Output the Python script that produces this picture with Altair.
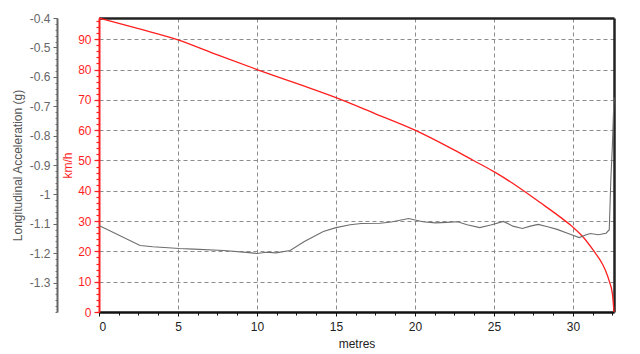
import altair as alt
import pandas as pd

# ---- data ----
dist_speed = [0, 2.5, 5, 7.5, 10, 12.5, 15, 17.5, 20, 22.5, 23.7, 25, 26.6, 27.9,
              29.2, 30, 30.6, 31.3, 31.9, 32.1, 32.3, 32.5, 32.6]
speed_kmh = [97, 93.5, 89.8, 84.8, 80, 75.4, 70.7, 65.4, 60, 53.4, 50.0, 46.3, 41.0, 36.2,
             31.3, 28, 25, 20.3, 15.5, 13.2, 10.2, 6, 0]

dist_acc = [0, 2.6, 3.4, 5.1, 6.0, 7.9, 9.5, 10.0, 10.6, 11.2, 12.1, 13.0, 14.2, 15.0,
            15.9, 16.6, 17.8, 18.5, 19.6, 20.5, 21.3, 22.0, 22.7, 23.3, 24.1, 24.8,
            25.6, 26.2, 26.8, 27.3, 27.8, 28.4, 29.0, 29.7, 30.4, 30.8, 31.1, 31.6,
            32.1, 32.3, 32.4, 32.5, 32.6]
acc_g = [-1.106, -1.174, -1.178, -1.184, -1.186, -1.191, -1.198, -1.201, -1.197, -1.199,
         -1.191, -1.160, -1.126, -1.113, -1.103, -1.099, -1.098, -1.094, -1.082, -1.093,
         -1.097, -1.095, -1.093, -1.103, -1.113, -1.104, -1.092, -1.108, -1.116, -1.108,
         -1.102, -1.110, -1.119, -1.133, -1.147, -1.138, -1.133, -1.137, -1.132, -1.120,
         -0.950, -0.830, -0.670]

x_ticks = [0, 5, 10, 15, 20, 25, 30]
x_minor = [0, 1.25, 2.5, 3.75, 5, 6.25, 7.5, 8.75, 10, 11.25, 12.5, 13.75, 15, 16.25,
           17.5, 18.75, 20, 21.25, 22.5, 23.75, 25, 26.25, 27.5, 28.75, 30, 31.25, 32.5]
speed_ticks = [0, 10, 20, 30, 40, 50, 60, 70, 80, 90]
speed_minor = list(range(0, 97, 2))
acc_ticks = [-0.4, -0.5, -0.6, -0.7, -0.8, -0.9, -1, -1.1, -1.2, -1.3]
acc_minor = [round(-0.4 - 0.02 * i, 2) for i in range(51)]

X_DOM = [0, 32.6]
SPD_DOM = [0, 97]
ACC_DOM = [-1.4, -0.4]

RED = "#ff1f1f"
GRAY_LINE = "#6e6e6e"
FONT = "Liberation Sans"

speed_df = pd.DataFrame({"m": dist_speed, "kmh": speed_kmh})
acc_df = pd.DataFrame({"m": dist_acc, "g": acc_g})


def xs():
    return alt.Scale(domain=X_DOM, nice=False, zero=False)


def ss():
    return alt.Scale(domain=SPD_DOM, nice=False, zero=False)


def acs():
    return alt.Scale(domain=ACC_DOM, nice=False, zero=False)


grid_kw = dict(grid=True, gridDash=[4, 3], gridColor="#8c8c8c", gridWidth=1)

speed = alt.Chart(speed_df).mark_line(color=RED, strokeWidth=1.3, interpolate="monotone").encode(
    x=alt.X("m:Q", scale=xs(), axis=alt.Axis(
        orient="bottom", values=x_ticks, title="metres", **grid_kw,
        domainColor="#111111", domainWidth=2.5, tickColor="#111111", tickSize=4,
        labelColor="#222222", labelFontSize=12, labelPadding=5, labelFont=FONT,
        titleColor="#222222", titleFontSize=12, titlePadding=6, titleFont=FONT,
        titleFontWeight="normal")),
    y=alt.Y("kmh:Q", scale=ss(), axis=alt.Axis(
        orient="left", values=speed_ticks, title="km/h", offset=0, **grid_kw,
        domainColor=RED, domainWidth=2, tickColor=RED, tickSize=5, tickWidth=1.2,
        labelColor=RED, labelFontSize=12, labelPadding=3, labelFont=FONT,
        titleColor=RED, titleFontSize=12, titlePadding=3, titleFont=FONT,
        titleFontWeight="normal")),
)

acc = alt.Chart(acc_df).mark_line(color=GRAY_LINE, strokeWidth=1.1).encode(
    x=alt.X("m:Q", scale=xs(), axis=None),
    y=alt.Y("g:Q", scale=acs(), axis=alt.Axis(
        orient="left", values=acc_ticks, title="Longitudinal Acceleration (g)",
        offset=42, grid=False, labelExpr="toString(datum.value)",
        domainColor="#666666", domainWidth=2, tickColor="#666666", tickSize=4,
        labelColor="#666666", labelFontSize=12, labelPadding=3, labelFont=FONT,
        titleColor="#555555", titleFontSize=12, titlePadding=5, titleFont=FONT,
        titleFontWeight="normal")),
)

minor_a = alt.Chart(acc_df).mark_point(opacity=0).encode(
    x=alt.X("m:Q", scale=xs(), axis=alt.Axis(
        orient="bottom", values=x_minor, labels=False, title=None, grid=False,
        domain=False, tickColor="#111111", tickSize=3)),
    y=alt.Y("g:Q", scale=acs(), axis=alt.Axis(
        orient="left", values=acc_minor, labels=False, title=None, grid=False,
        offset=42, domain=False, tickColor="#777777", tickSize=2)),
)

minor_b = alt.Chart(speed_df).mark_point(opacity=0).encode(
    x=alt.X("m:Q", scale=xs(), axis=alt.Axis(
        orient="top", labels=False, ticks=False, title=None, grid=False,
        domainColor="#222222", domainWidth=2.5)),
    y=alt.Y("kmh:Q", scale=ss(), axis=alt.Axis(
        orient="left", values=speed_minor, labels=False, title=None, grid=False,
        domain=False, tickColor=RED, tickSize=3, tickWidth=1.2)),
)

border = alt.Chart(speed_df).mark_point(opacity=0).encode(
    x=alt.X("m:Q", scale=xs(), axis=None),
    y=alt.Y("kmh:Q", scale=ss(), axis=alt.Axis(
        orient="right", labels=False, ticks=False, title=None, grid=False,
        domainColor="#222222", domainWidth=2.5)),
)

chart = alt.layer(minor_a, minor_b, border, speed, acc).resolve_scale(
    x="independent", y="independent"
).resolve_axis(
    x="independent", y="independent"
).properties(
    width=515, height=294,
    padding={"left": 99, "top": 18, "right": 26, "bottom": 42},
    autosize=alt.AutoSizeParams(type="none"),
    background="white",
).configure_view(stroke=None)

chart.save("out.html", embed_options={"renderer": "svg", "actions": False})
